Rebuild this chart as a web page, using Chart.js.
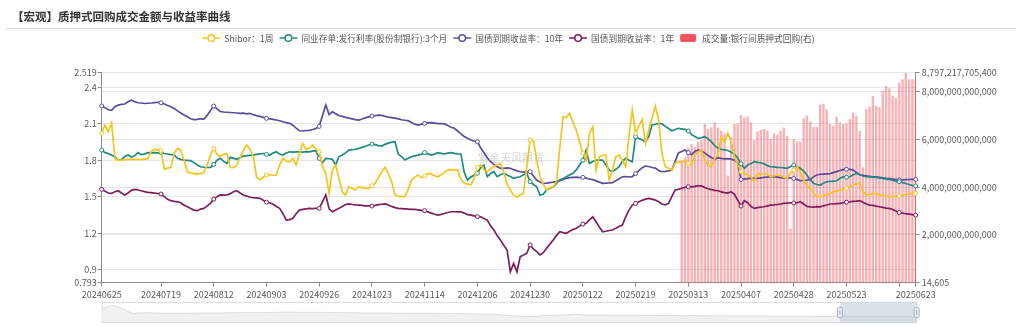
<!DOCTYPE html>
<html>
  <head>
    <meta charset="utf-8" />
    <title>质押式回购成交金额与收益率曲线</title>
    <script src="https://cdn.jsdelivr.net/npm/chart.js"></script>
    <style>
      html, body { margin: 0; padding: 0; background: #fff; }
      canvas { display: block; }
    </style>
  </head>
  <body>
    <canvas id="repo-chart" width="1024" height="327"></canvas>
    <script>
      var FONT = "'Noto Sans CJK SC', 'Noto Sans', sans-serif";
      var TITLE = '【宏观】质押式回购成交金额与收益率曲线';
      var WATERMARK = '紫金天风期货';

      // interbank trading calendar
      var holidays = ['20240916', '20240917', '20241001', '20241002', '20241003', '20241004', '20241007',
        '20250101', '20250128', '20250129', '20250130', '20250131', '20250203', '20250204',
        '20250404', '20250501', '20250502', '20250505'];
      var extraWorkdays = ['20240914', '20240929', '20241012', '20250126', '20250208', '20250427'];

      var tickLabels = ['20240625', '20240719', '20240812', '20240903', '20240926', '20241023', '20241114',
        '20241206', '20241230', '20250122', '20250219', '20250313', '20250407', '20250428', '20250523', '20250623'];

      var shibor1w = [
        2.021, 2.089, 2.034, 2.108, 1.815, 1.801, 1.800, 1.805, 1.806, 1.807,
        1.808, 1.804, 1.806, 1.808, 1.810, 1.870, 1.889, 1.885, 1.880, 1.725,
        1.735, 1.741, 1.860, 1.897, 1.883, 1.800, 1.705, 1.696, 1.690, 1.686,
        1.690, 1.700, 1.760, 1.840, 1.897, 1.850, 1.828, 1.850, 1.855, 1.740,
        1.738, 1.760, 1.820, 1.880, 1.924, 1.890, 1.828, 1.660, 1.640, 1.660,
        1.678, 1.680, 1.676, 1.678, 1.760, 1.815, 1.792, 1.787, 1.815, 1.760,
        1.850, 1.938, 1.890, 1.900, 1.924, 1.890, 1.869, 1.746, 1.692, 1.527,
        1.719, 1.760, 1.650, 1.540, 1.514, 1.582, 1.570, 1.555, 1.582, 1.574,
        1.570, 1.569, 1.590, 1.610, 1.660, 1.705, 1.741, 1.690, 1.620, 1.514,
        1.502, 1.500, 1.500, 1.560, 1.637, 1.660, 1.678, 1.655, 1.670, 1.692,
        1.685, 1.672, 1.664, 1.680, 1.700, 1.719, 1.722, 1.718, 1.719, 1.640,
        1.610, 1.604, 1.596, 1.650, 1.740, 1.760, 1.720, 1.705, 1.730, 1.746,
        1.760, 1.774, 1.700, 1.600, 1.555, 1.510, 1.495, 1.515, 1.527, 1.750,
        1.965, 1.960, 1.800, 1.664, 1.600, 1.555, 1.575, 1.582, 1.623, 1.900,
        2.157, 2.150, 2.185, 2.110, 2.048, 1.950, 1.860, 1.801, 2.021, 2.075,
        1.719, 1.828, 1.840, 1.842, 1.637, 1.720, 1.828, 1.842, 1.800, 1.746,
        2.000, 2.212, 2.021, 2.080, 2.136, 1.938, 2.050, 2.144, 2.245, 2.130,
        1.855, 1.746, 1.733, 1.719, 1.774, 1.787, 1.780, 1.795, 1.774, 1.760,
        1.842, 1.870, 1.883, 1.801, 1.760, 1.746, 1.815, 1.842, 1.990, 1.950,
        2.022, 1.952, 1.828, 1.760, 1.705, 1.690, 1.678, 1.664, 1.623, 1.692,
        1.680, 1.692, 1.685, 1.664, 1.670, 1.678, 1.672, 1.660, 1.651, 1.692,
        1.719, 1.746, 1.700, 1.637, 1.590, 1.569, 1.527, 1.505, 1.500, 1.510,
        1.514, 1.527, 1.541, 1.545, 1.555, 1.562, 1.569, 1.582, 1.596, 1.604,
        1.610, 1.541, 1.514, 1.520, 1.525, 1.527, 1.515, 1.508, 1.506, 1.500,
        1.502, 1.505, 1.506, 1.512, 1.518, 1.522, 1.527, 1.528
      ];

      var cdRate3m = [
        1.883, 1.862, 1.855, 1.840, 1.828, 1.801, 1.805, 1.830, 1.842, 1.826,
        1.836, 1.862, 1.845, 1.850, 1.862, 1.860, 1.862, 1.860, 1.862, 1.855,
        1.851, 1.846, 1.842, 1.815, 1.807, 1.800, 1.798, 1.796, 1.780, 1.760,
        1.746, 1.742, 1.740, 1.741, 1.765, 1.800, 1.815, 1.790, 1.774, 1.823,
        1.815, 1.807, 1.822, 1.834, 1.838, 1.840, 1.842, 1.848, 1.852, 1.855,
        1.848, 1.842, 1.858, 1.869, 1.850, 1.842, 1.858, 1.869, 1.866, 1.868,
        1.869, 1.867, 1.870, 1.869, 1.875, 1.878, 1.815, 1.779, 1.815, 1.812,
        1.807, 1.760, 1.830, 1.842, 1.860, 1.883, 1.886, 1.890, 1.897, 1.905,
        1.915, 1.925, 1.933, 1.928, 1.920, 1.916, 1.930, 1.940, 1.948, 1.952,
        1.850, 1.830, 1.801, 1.815, 1.828, 1.835, 1.842, 1.850, 1.862, 1.852,
        1.842, 1.850, 1.862, 1.856, 1.851, 1.858, 1.862, 1.856, 1.852, 1.851,
        1.700, 1.637, 1.660, 1.678, 1.692, 1.740, 1.760, 1.664, 1.690, 1.705,
        1.664, 1.680, 1.692, 1.678, 1.665, 1.651, 1.660, 1.664, 1.680, 1.692,
        1.623, 1.600, 1.582, 1.514, 1.520, 1.555, 1.570, 1.582, 1.610, 1.637,
        1.650, 1.664, 1.680, 1.692, 1.720, 1.760, 1.800, 1.883, 1.774, 1.790,
        1.801, 1.800, 1.801, 1.760, 1.719, 1.705, 1.725, 1.746, 1.790, 1.815,
        1.800, 1.787, 1.993, 1.979, 1.965, 1.952, 1.993, 2.089, 2.095, 2.103,
        2.098, 2.080, 2.060, 2.042, 2.052, 2.062, 2.058, 2.053, 2.040, 2.010,
        1.995, 1.979, 1.985, 1.993, 1.975, 1.952, 1.920, 1.897, 1.890, 1.884,
        1.880, 1.866, 1.850, 1.818, 1.770, 1.733, 1.760, 1.772, 1.787, 1.782,
        1.779, 1.770, 1.755, 1.746, 1.745, 1.741, 1.740, 1.736, 1.733, 1.748,
        1.760, 1.745, 1.733, 1.710, 1.678, 1.640, 1.610, 1.600, 1.596, 1.610,
        1.623, 1.625, 1.628, 1.631, 1.650, 1.664, 1.660, 1.664, 1.678, 1.692,
        1.680, 1.670, 1.664, 1.662, 1.660, 1.659, 1.655, 1.650, 1.645, 1.642,
        1.635, 1.628, 1.623, 1.615, 1.608, 1.600, 1.592, 1.588
      ];

      var cgb10y = [
        2.245, 2.232, 2.214, 2.210, 2.240, 2.252, 2.258, 2.262, 2.280, 2.294,
        2.281, 2.272, 2.270, 2.266, 2.268, 2.270, 2.273, 2.276, 2.272, 2.262,
        2.250, 2.239, 2.224, 2.205, 2.188, 2.171, 2.157, 2.140, 2.134, 2.136,
        2.142, 2.136, 2.168, 2.208, 2.245, 2.222, 2.200, 2.196, 2.194, 2.192,
        2.190, 2.188, 2.184, 2.186, 2.180, 2.185, 2.174, 2.166, 2.160, 2.152,
        2.144, 2.140, 2.136, 2.130, 2.124, 2.116, 2.108, 2.103, 2.088, 2.064,
        2.042, 2.040, 2.044, 2.045, 2.052, 2.060, 2.078, 2.168, 2.253, 2.175,
        2.198, 2.182, 2.165, 2.160, 2.152, 2.146, 2.140, 2.134, 2.130, 2.138,
        2.148, 2.156, 2.163, 2.166, 2.170, 2.168, 2.160, 2.154, 2.150, 2.146,
        2.140, 2.132, 2.128, 2.125, 2.110, 2.096, 2.089, 2.096, 2.102, 2.106,
        2.108, 2.104, 2.100, 2.100, 2.098, 2.086, 2.070, 2.062, 2.040, 2.016,
        1.995, 1.980, 1.966, 1.958, 1.952, 1.900, 1.862, 1.820, 1.787, 1.765,
        1.745, 1.733, 1.732, 1.736, 1.733, 1.722, 1.712, 1.705, 1.702, 1.706,
        1.705, 1.670, 1.637, 1.620, 1.610, 1.612, 1.616, 1.620, 1.623, 1.632,
        1.642, 1.651, 1.656, 1.658, 1.660, 1.656, 1.659, 1.652, 1.645, 1.640,
        1.630, 1.620, 1.610, 1.612, 1.614, 1.615, 1.630, 1.648, 1.664, 1.666,
        1.662, 1.664, 1.690, 1.715, 1.738, 1.752, 1.748, 1.740, 1.735, 1.715,
        1.705, 1.708, 1.712, 1.719, 1.790, 1.860, 1.872, 1.883, 1.862, 1.845,
        1.872, 1.885, 1.875, 1.860, 1.838, 1.822, 1.808, 1.820, 1.815, 1.810,
        1.812, 1.808, 1.800, 1.775, 1.640, 1.645, 1.648, 1.652, 1.650, 1.651,
        1.655, 1.658, 1.660, 1.662, 1.664, 1.660, 1.656, 1.654, 1.655, 1.655,
        1.650, 1.640, 1.631, 1.635, 1.637, 1.640, 1.665, 1.678, 1.684, 1.686,
        1.688, 1.690, 1.698, 1.706, 1.715, 1.722, 1.725, 1.724, 1.720, 1.700,
        1.680, 1.676, 1.672, 1.668, 1.664, 1.662, 1.658, 1.655, 1.651, 1.648,
        1.645, 1.640, 1.637, 1.638, 1.640, 1.641, 1.642, 1.642
      ];

      var cgb1y = [
        1.560, 1.545, 1.530, 1.527, 1.540, 1.549, 1.530, 1.514, 1.530, 1.552,
        1.560, 1.555, 1.549, 1.542, 1.536, 1.533, 1.530, 1.526, 1.522, 1.500,
        1.478, 1.467, 1.462, 1.458, 1.450, 1.430, 1.417, 1.402, 1.390, 1.385,
        1.398, 1.404, 1.425, 1.445, 1.480, 1.500, 1.514, 1.512, 1.514, 1.525,
        1.540, 1.549, 1.530, 1.514, 1.505, 1.495, 1.492, 1.490, 1.486, 1.470,
        1.455, 1.450, 1.438, 1.420, 1.404, 1.360, 1.308, 1.312, 1.322, 1.360,
        1.390, 1.395, 1.400, 1.404, 1.402, 1.404, 1.404, 1.460, 1.514, 1.400,
        1.376, 1.390, 1.404, 1.420, 1.436, 1.440, 1.436, 1.432, 1.431, 1.428,
        1.425, 1.424, 1.423, 1.428, 1.434, 1.438, 1.440, 1.432, 1.420, 1.410,
        1.404, 1.402, 1.400, 1.398, 1.396, 1.396, 1.392, 1.388, 1.385, 1.375,
        1.365, 1.356, 1.349, 1.355, 1.362, 1.370, 1.376, 1.376, 1.375, 1.376,
        1.365, 1.352, 1.349, 1.342, 1.336, 1.335, 1.320, 1.308, 1.260, 1.226,
        1.180, 1.144, 1.100, 1.062, 0.883, 0.952, 0.883, 1.007, 1.020, 1.035,
        1.103, 1.070, 1.048, 1.021, 1.040, 1.076, 1.110, 1.144, 1.180, 1.212,
        1.205, 1.199, 1.215, 1.230, 1.240, 1.258, 1.275, 1.281, 1.310, 1.335,
        1.294, 1.250, 1.212, 1.216, 1.222, 1.226, 1.240, 1.255, 1.267, 1.335,
        1.390, 1.431, 1.445, 1.458, 1.470, 1.480, 1.486, 1.480, 1.472, 1.458,
        1.440, 1.432, 1.445, 1.500, 1.555, 1.560, 1.569, 1.577, 1.582, 1.580,
        1.584, 1.588, 1.588, 1.575, 1.565, 1.558, 1.552, 1.549, 1.540, 1.534,
        1.530, 1.541, 1.520, 1.470, 1.423, 1.467, 1.450, 1.420, 1.404, 1.410,
        1.414, 1.417, 1.424, 1.431, 1.432, 1.436, 1.440, 1.445, 1.448, 1.450,
        1.448, 1.450, 1.458, 1.440, 1.420, 1.417, 1.415, 1.418, 1.417, 1.425,
        1.432, 1.440, 1.440, 1.443, 1.445, 1.450, 1.455, 1.458, 1.462, 1.464,
        1.467, 1.455, 1.440, 1.431, 1.428, 1.422, 1.417, 1.412, 1.406, 1.404,
        1.395, 1.382, 1.370, 1.365, 1.360, 1.356, 1.352, 1.349
      ];

      // repo turnover, reported from 20250311 on
      var repoVolumeFrom = '20250311';
      var repoVolume = [
        5.12e12, 5.25e12, 5.64e12, 5.81e12, 5.70e12, 5.88e12, 5.98e12, 6.65e12, 6.44e12, 6.50e12,
        6.71e12, 6.50e12, 6.37e12, 6.25e12, 4.49e12, 6.09e12, 6.65e12, 6.67e12, 7.03e12, 6.92e12,
        6.95e12, 6.71e12, 5.98e12, 6.34e12, 6.40e12, 6.44e12, 6.37e12, 6.02e12, 6.25e12, 6.20e12,
        6.37e12, 6.50e12, 6.16e12, 2.27e12, 6.02e12, 5.92e12, 5.90e12, 6.89e12, 6.99e12, 6.75e12,
        6.53e12, 6.53e12, 7.45e12, 7.50e12, 7.27e12, 6.65e12, 6.57e12, 6.95e12, 6.71e12, 6.65e12,
        6.67e12, 6.85e12, 7.13e12, 6.99e12, 6.37e12, 4.84e12, 7.27e12, 7.37e12, 7.83e12, 7.41e12,
        7.34e12, 8.03e12, 8.24e12, 8.15e12, 7.83e12, 7.75e12, 8.38e12, 8.52e12, 8797217705400, 8.52e12,
        8.52e12, 8.50e12
      ];

      var leftMin = 0.793, leftMax = 2.519;
      var leftTicks = [0.793, 0.9, 1.2, 1.5, 1.8, 2.1, 2.4, 2.519];
      var rightMin = 14605, rightMax = 8797217705400;
      var rightTicks = [14605, 2e12, 4e12, 6e12, 8e12, 8797217705400];

      // long-history outline shown in the zoom slider (share of slider height)
      var sliderShadow = [
        0.67, 0.84, 0.68, 0.43, 0.46, 0.45, 0.44, 0.44, 0.44, 0.44,
        0.45, 0.45, 0.45, 0.46, 0.47, 0.47, 0.47, 0.48, 0.49, 0.49,
        0.48, 0.48, 0.48, 0.47, 0.47, 0.46, 0.45, 0.45, 0.45, 0.44,
        0.44, 0.44, 0.43, 0.43, 0.42, 0.42, 0.41, 0.40, 0.39, 0.39,
        0.34, 0.30, 0.28, 0.28, 0.32, 0.34, 0.35, 0.39, 0.35, 0.35,
        0.35, 0.34, 0.34, 0.34, 0.33, 0.33, 0.32, 0.32, 0.31, 0.32,
        0.31, 0.31, 0.31, 0.30, 0.30, 0.30, 0.30, 0.29, 0.29, 0.29,
        0.29, 0.28, 0.28, 0.28, 0.28, 0.27, 0.28, 0.27, 0.27, 0.27,
        0.27, 0.27
      ];
      var sliderWindowFrom = '20250521';

      function buildDates() {
        var out = [];
        var d = new Date(Date.UTC(2024, 5, 25));
        var end = Date.UTC(2025, 5, 23);
        while (d.getTime() <= end) {
          var s = d.toISOString().slice(0, 10).replace(/-/g, '');
          var wd = d.getUTCDay();
          if ((wd !== 0 && wd !== 6 && holidays.indexOf(s) < 0) || extraWorkdays.indexOf(s) >= 0) {
            out.push(s);
          }
          d.setUTCDate(d.getUTCDate() + 1);
        }
        return out;
      }

      var dates = buildDates();
      var lastIdx = dates.length - 1;

      // axis ticks every 16 sessions, plus both ends
      var tickIdx = [0];
      for (var t = dates.indexOf(tickLabels[1]); t < lastIdx; t += 16) tickIdx.push(t);
      tickIdx.push(lastIdx);
      var markSet = new Set(tickIdx);

      var volStart = dates.indexOf(repoVolumeFrom);
      var volumeData = dates.map(function (d, i) {
        var k = i - volStart;
        return k >= 0 && k < repoVolume.length ? repoVolume[k] : null;
      });

      function lineSet(label, data, color) {
        return {
          type: 'line',
          label: label,
          data: data,
          yAxisID: 'y',
          borderColor: color,
          backgroundColor: color,
          borderWidth: 1.7,
          tension: 0,
          fill: false,
          pointRadius: function (c) { return markSet.has(c.dataIndex) ? 2 : 0; },
          pointBackgroundColor: '#fff',
          pointBorderColor: color,
          pointBorderWidth: 1,
          order: 1
        };
      }

      var datasets = [
        lineSet('Shibor：1周', shibor1w, '#f5c51f'),
        lineSet('同业存单:发行利率(股份制银行):3个月', cdRate3m, '#1e8b80'),
        lineSet('国债到期收益率：10年', cgb10y, '#5d4b9e'),
        lineSet('国债到期收益率：1年', cgb1y, '#7d1f5e'),
        {
          type: 'bar',
          label: '成交量:银行间质押式回购(右)',
          data: volumeData,
          yAxisID: 'y1',
          backgroundColor: 'rgba(244, 83, 93, 0.46)',
          legendColor: '#f4535d',
          barPercentage: 0.72,
          categoryPercentage: 1,
          order: 10
        }
      ];

      var AXIS = '#8c8c8c';
      var LABEL = '#5a5a5a';
      var GRID = '#e6e6e6';
      var TICK_SIZE = 9;

      var chromePlugin = {
        id: 'chrome',
        beforeDatasetsDraw: function (chart) {
          var ctx = chart.ctx;
          ctx.save();
          ctx.font = '11px ' + FONT;
          ctx.fillStyle = 'rgba(130, 130, 130, 0.32)';
          ctx.textAlign = 'center';
          ctx.textBaseline = 'middle';
          ctx.fillText(WATERMARK, 511, 158);
          ctx.restore();
        },
        afterDraw: function (chart) {
          var ctx = chart.ctx;
          ctx.save();

          // title and rule
          ctx.font = 'bold 11.5px ' + FONT;
          ctx.fillStyle = '#333';
          ctx.textBaseline = 'middle';
          ctx.fillText(TITLE, 12, 16.5);
          ctx.strokeStyle = '#dcdcdc';
          ctx.lineWidth = 1;
          ctx.beginPath();
          ctx.moveTo(6, 28.5);
          ctx.lineTo(1016, 28.5);
          ctx.stroke();

          // legend
          ctx.font = '8.7px ' + FONT;
          var sets = chart.data.datasets;
          var widths = sets.map(function (ds) { return 22 + ctx.measureText(ds.label).width; });
          var gap = 6;
          var total = widths.reduce(function (a, b) { return a + b; }, 0) + gap * (sets.length - 1);
          var x = 508.5 - total / 2;
          var y = 38;
          sets.forEach(function (ds, i) {
            if (ds.type === 'bar') {
              ctx.fillStyle = ds.legendColor;
              ctx.beginPath();
              ctx.roundRect(x, y - 4, 16, 8, 2);
              ctx.fill();
            } else {
              ctx.strokeStyle = ds.borderColor;
              ctx.lineWidth = 1.5;
              ctx.beginPath();
              ctx.moveTo(x, y);
              ctx.lineTo(x + 18, y);
              ctx.stroke();
              ctx.beginPath();
              ctx.arc(x + 9, y, 3.3, 0, Math.PI * 2);
              ctx.fillStyle = '#fff';
              ctx.fill();
              ctx.stroke();
            }
            ctx.fillStyle = '#555';
            ctx.textAlign = 'left';
            ctx.fillText(ds.label, x + 22, y + 0.5);
            x += widths[i] + gap;
          });

          // zoom slider
          var xs = chart.scales.x;
          var left = chart.chartArea.left + 0.5, right = chart.chartArea.right + 1;
          var top = 302, h = 20, bottom = top + h;
          ctx.beginPath();
          ctx.moveTo(left, bottom);
          sliderShadow.forEach(function (v, k) {
            ctx.lineTo(left + (right - left) * k / (sliderShadow.length - 1), bottom - v * h);
          });
          ctx.lineTo(right, bottom);
          ctx.closePath();
          ctx.fillStyle = 'rgba(0, 0, 0, 0.055)';
          ctx.fill();
          ctx.beginPath();
          sliderShadow.forEach(function (v, k) {
            var px = left + (right - left) * k / (sliderShadow.length - 1);
            if (k === 0) ctx.moveTo(px, bottom - v * h); else ctx.lineTo(px, bottom - v * h);
          });
          ctx.strokeStyle = '#d4d4d4';
          ctx.lineWidth = 0.8;
          ctx.stroke();
          ctx.strokeStyle = '#dedede';
          ctx.lineWidth = 1;
          ctx.strokeRect(left, top + 0.5, right - left, h);

          var wx0 = xs.getPixelForValue(dates.indexOf(sliderWindowFrom));
          var wx1 = right;
          ctx.fillStyle = 'rgba(167, 183, 203, 0.4)';
          ctx.fillRect(wx0, top + 0.5, wx1 - wx0, h);
          [wx0, wx1].forEach(function (hx) {
            ctx.fillStyle = '#e9edf3';
            ctx.strokeStyle = '#a7b7cc';
            ctx.lineWidth = 1;
            ctx.beginPath();
            ctx.roundRect(hx - 2.5, top + 5.5, 5, 10, 1.5);
            ctx.fill();
            ctx.stroke();
            ctx.beginPath();
            ctx.moveTo(hx, top + 8);
            ctx.lineTo(hx, top + 13);
            ctx.stroke();
          });
          ctx.restore();
        }
      };

      Chart.defaults.font.family = FONT;

      var chart = new Chart(document.getElementById('repo-chart'), {
        type: 'line',
        data: { labels: dates, datasets: datasets },
        plugins: [chromePlugin],
        options: {
          responsive: false,
          animation: false,
          devicePixelRatio: 1,
          events: [],
          layout: { padding: { top: 72.7, left: 0, right: 0, bottom: 0 } },
          plugins: {
            legend: { display: false },
            title: { display: false },
            tooltip: { enabled: false }
          },
          scales: {
            x: {
              type: 'category',
              offset: false,
              grid: { display: true, drawOnChartArea: false, offset: false, tickLength: 4, tickColor: AXIS },
              border: { display: true, color: AXIS },
              ticks: {
                autoSkip: false,
                maxRotation: 0,
                minRotation: 0,
                padding: 2,
                color: LABEL,
                font: { size: TICK_SIZE },
                callback: function (value) {
                  var d = this.getLabelForValue(value);
                  return tickLabels.indexOf(d) >= 0 ? d : '';
                }
              },
              afterBuildTicks: function (scale) {
                scale.ticks = tickIdx.map(function (v) { return { value: v }; });
              },
              afterFit: function (scale) { scale.height = 44.3; }
            },
            y: {
              type: 'linear',
              position: 'left',
              min: leftMin,
              max: leftMax,
              grid: { color: GRID, tickColor: AXIS, tickLength: 4 },
              border: { display: true, color: AXIS },
              ticks: {
                autoSkip: false,
                padding: 1,
                color: LABEL,
                font: { size: TICK_SIZE },
                callback: function (v) { return String(v); }
              },
              afterBuildTicks: function (scale) {
                scale.ticks = leftTicks.map(function (v) { return { value: v }; });
              },
              afterFit: function (scale) { scale.width = 101.7; }
            },
            y1: {
              type: 'linear',
              position: 'right',
              min: rightMin,
              max: rightMax,
              grid: { color: GRID, tickColor: AXIS, tickLength: 4 },
              border: { display: true, color: AXIS },
              ticks: {
                autoSkip: false,
                padding: 2,
                color: LABEL,
                font: { size: TICK_SIZE },
                callback: function (v) { return Number(v).toLocaleString('en-US'); }
              },
              afterBuildTicks: function (scale) {
                scale.ticks = rightTicks.map(function (v) { return { value: v }; });
              },
              afterFit: function (scale) { scale.width = 108.3; }
            }
          }
        }
      });
    </script>
  </body>
</html>
